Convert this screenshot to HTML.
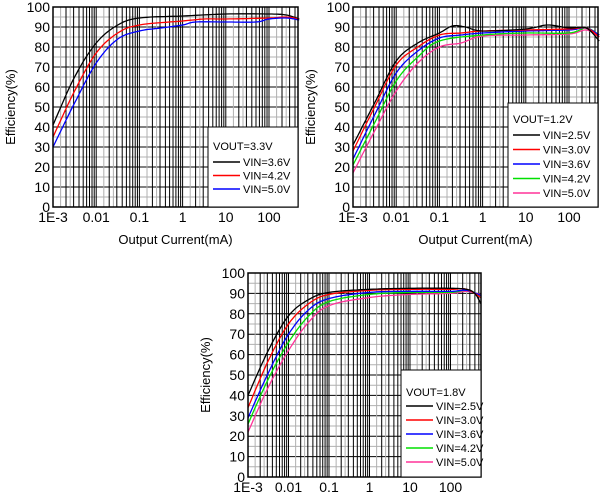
<!DOCTYPE html>
<html><head><meta charset="utf-8"><style>
html,body{margin:0;padding:0;background:#fff;}
svg{display:block;font-family:"Liberation Sans",sans-serif;}
</style></head><body>
<svg id="s" width="602" height="500" viewBox="0 0 602 500" xmlns="http://www.w3.org/2000/svg"></svg>
<script>
const S=document.getElementById('s');let h='';
const C={k:'#000',r:'#ff0000',b:'#0000ff',g:'#00e000',m:'#ff3399'};
function chart(o){
 const {L,R,T,B,d0}=o; const dec=d0;
 const X=v=>L+(v+3)*dec, Y=e=>B-(B-T)*e/100;
 h+=`<rect x="${L}" y="${T}" width="${R-L}" height="${B-T}" fill="#fff"/>`;
 for(let e=5;e<100;e+=5){const y=Y(e);h+=`<line x1="${L}" x2="${R}" y1="${y}" y2="${y}" stroke="${e%10?'#b0b0b0':'#000'}" stroke-width="1"/>`;}
 for(let d=-3;d<3;d++){for(const m of [1,1.5,2,2.5,3,4,5,6,7,8,9]){const v=d+Math.log10(m);const x=X(v);if(x<=L||x>=R)continue;
  const major=Number.isInteger(m);h+=`<line x1="${x}" x2="${x}" y1="${T}" y2="${B}" stroke="${major?'#000':'#b0b0b0'}" stroke-width="1"/>`;}}
 for(const [c,p] of o.curves){
  let pts=[];for(let i=0;i<p.length-1;i++){const p0=p[Math.max(0,i-1)],p1=p[i],p2=p[i+1],p3=p[Math.min(p.length-1,i+2)];
   for(let t=0;t<1;t+=0.1){const t2=t*t,t3=t2*t;
    const f=(a,b,c2,d)=>0.5*((2*b)+(-a+c2)*t+(2*a-5*b+4*c2-d)*t2+(-a+3*b-3*c2+d)*t3);
    pts.push([X(f(p0[0],p1[0],p2[0],p3[0])),Y(f(p0[1],p1[1],p2[1],p3[1]))]);}}
  const l=p[p.length-1];pts.push([X(l[0]),Y(l[1])]);
  h+=`<polyline fill="none" stroke="${C[c]}" stroke-width="1.3" points="${pts.map(q=>q[0].toFixed(1)+','+Math.min(Math.max(q[1],T),B).toFixed(1)).join(' ')}"/>`;}
 h+=`<rect x="${L}" y="${T}" width="${R-L}" height="${B-T}" fill="none" stroke="#000" stroke-width="1.5"/>`;
 const lg=o.lg;h+=`<rect x="${lg.x}" y="${lg.y}" width="${R-lg.x}" height="${B-lg.y}" fill="#fff" stroke="#000" stroke-width="1"/>`;
 h+=`<text x="${lg.x+5}" y="${lg.vy}" font-size="11">${lg.title}</text>`;
 lg.items.forEach((it,i)=>{const y=lg.iy+i*lg.sp;h+=`<line x1="${lg.x+5}" x2="${lg.x+32}" y1="${y}" y2="${y}" stroke="${C[it[0]]}" stroke-width="1.5"/><text x="${lg.x+35}" y="${y+4}" font-size="11">${it[1]}</text>`;});
 for(let e=0;e<=100;e+=10)h+=`<text x="${L-3}" y="${Y(e)+5}" font-size="14" text-anchor="end">${e}</text>`;
 ['1E-3','0.01','0.1','1','10','100'].forEach((t,i)=>h+=`<text x="${X(i-3)}" y="${B+15}" font-size="14" text-anchor="middle">${t}</text>`);
 h+=`<text transform="translate(${o.yt},${(T+B)/2}) rotate(-90)" font-size="13" text-anchor="middle">Efficiency(%)</text>`;
 if(o.xt)h+=`<text x="${(L+R)/2}" y="${B+37}" font-size="13" text-anchor="middle">Output Current(mA)</text>`;
}
chart({L:53,R:298,T:7,B:207,d0:43.2,yt:15,xt:1,lg:{x:208,y:127,title:'VOUT=3.3V',vy:150,iy:162,sp:13.5,items:[['k','VIN=3.6V'],['r','VIN=4.2V'],['b','VIN=5.0V']]},
curves:[['k',[[-3,41],[-2.5,65],[-2,82],[-1.5,91],[-1,94.5],[0,95.5],[1,96.5],[2,96.5],[2.4,96],[2.7,94]]],
['r',[[-3,35],[-2.5,58],[-2,77],[-1.5,87],[-1,91],[0,93],[0.5,94],[1,94],[2,94.5],[2.4,95],[2.7,94]]],
['b',[[-3,30],[-2.5,52],[-2,72],[-1.5,84],[-1,88],[-0.5,89.5],[0,91],[0.3,92.5],[1,92.5],[1.7,92.5],[2,94],[2.4,94.5],[2.7,93.5]]]]});
chart({L:353,R:598,T:7,B:207,d0:43.2,yt:315,xt:1,lg:{x:508,y:103,title:'VOUT=1.2V',vy:123,iy:135,sp:14.5,items:[['k','VIN=2.5V'],['r','VIN=3.0V'],['b','VIN=3.6V'],['g','VIN=4.2V'],['m','VIN=5.0V']]},
curves:[['m',[[-3,17],[-2.5,38],[-2,58],[-1.5,72],[-1,80],[-0.5,82],[0,85.5],[1,86],[2,86.5],[2.4,88.5],[2.7,85]]],
['g',[[-3,21],[-2.5,42],[-2,63],[-1.5,75],[-1,83],[0,86],[1,87],[2,87],[2.4,89.5],[2.7,86]]],
['b',[[-3,24],[-2.5,46],[-2,67],[-1.5,78],[-1,84.5],[-0.5,86],[0,87],[1,88],[2,88.5],[2.4,89.5],[2.7,86]]],
['r',[[-3,28],[-2.5,50],[-2,71],[-1.5,80],[-1,86],[-0.5,87],[0,88],[1,88.5],[2,89],[2.4,89.5],[2.7,85]]],
['k',[[-3,31],[-2.5,52],[-2,73],[-1.5,82],[-1,87],[-0.7,90.5],[-0.4,90],[0,88],[1,89],[1.5,91],[2,89.5],[2.4,89.5],[2.7,83]]]]});
chart({L:248,R:481,T:273,B:477,d0:40.5,yt:210,xt:0,lg:{x:401,y:370,title:'VOUT=1.8V',vy:396,iy:406,sp:14,items:[['k','VIN=2.5V'],['r','VIN=3.0V'],['b','VIN=3.6V'],['g','VIN=4.2V'],['m','VIN=5.0V']]},
curves:[['m',[[-3,22],[-2.5,44],[-2,62],[-1.5,76],[-1,84],[0,88],[1,89.5],[2,90],[2.4,91],[2.75,89.5]]],
['g',[[-3,26],[-2.5,48],[-2,66],[-1.5,79],[-1,86],[0,89.5],[1,90.5],[2,90.5],[2.4,91.5],[2.75,89]]],
['b',[[-3,29],[-2.5,51],[-2,70],[-1.5,82],[-1,87.5],[0,90.5],[1,91],[2,91],[2.4,91.5],[2.75,89]]],
['r',[[-3,34],[-2.5,57],[-2,75],[-1.5,85],[-1,89.5],[0,91.5],[1,92],[2,92],[2.4,92],[2.75,88]]],
['k',[[-3,40],[-2.5,62],[-2,79],[-1.5,87],[-1,90.5],[0,92],[1,92.5],[2,92.5],[2.4,92],[2.6,90],[2.75,85]]]]});
S.innerHTML=h;
</script>
</body></html>
